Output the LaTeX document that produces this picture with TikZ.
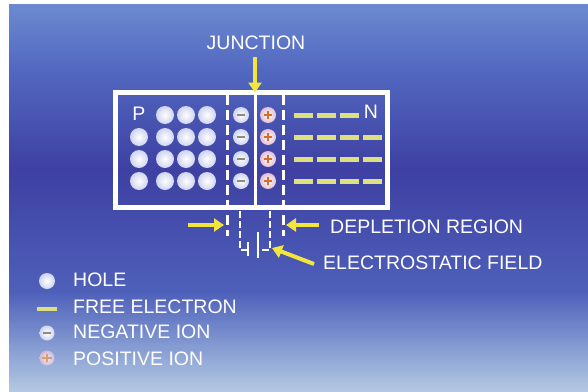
\documentclass[tikz,border=0pt]{standalone}
\usepackage{fontspec}
\setmainfont{Liberation Sans}
\usetikzlibrary{arrows.meta}
\definecolor{bgA}{RGB}{108,138,208}
\definecolor{bgB}{RGB}{82,104,192}
\definecolor{bgC}{RGB}{62,64,162}
\definecolor{bgD}{RGB}{78,96,186}
\definecolor{bgE}{RGB}{128,150,208}
\definecolor{bgF}{RGB}{180,200,226}
\definecolor{arrowyellow}{RGB}{242,230,60}
\definecolor{elecyellow}{RGB}{222,224,128}
\definecolor{negdash}{RGB}{140,140,120}
\definecolor{plusorange}{RGB}{215,110,40}
\definecolor{holeedge}{RGB}{205,212,240}
\definecolor{posedge}{RGB}{225,190,215}
\tikzset{
  lbl/.style={text=white, font=\fontsize{19.5}{22}\selectfont, inner sep=0pt},
  hole/.style={circle, minimum size=18pt, inner sep=0pt, shading=radial, inner color=white, outer color=holeedge},
  negion/.style={circle, minimum size=16pt, inner sep=0pt, shading=radial, inner color=white, outer color=holeedge},
  posion/.style={circle, minimum size=16pt, inner sep=0pt, shading=radial, inner color=white, outer color=posedge},
  electron/.style={rectangle, minimum width=19pt, minimum height=5pt, inner sep=0pt, fill=elecyellow},
  yarrow/.style={draw=arrowyellow, line width=4pt, -{Triangle[width=13pt,length=10pt]}},
  dashline/.style={draw=white, line width=3pt, dash pattern=on 10pt off 5pt},
  wire/.style={draw=white, line width=2.5pt},
  wiredash/.style={draw=white, line width=2.5pt, dash pattern=on 7pt off 3pt},
}
\begin{document}
\begin{tikzpicture}[x=1pt,y=-1pt]
\useasboundingbox (0,0) rectangle (588,391);
% background
\fill[white] (0,0) rectangle (588,391);
\shade[top color=bgA, bottom color=bgB] (9,4) rectangle (588,70);
\shade[top color=bgB, bottom color=bgC] (9,69.5) rectangle (588,170);
\shade[top color=bgC, bottom color=bgD] (9,169.5) rectangle (588,292);
\shade[top color=bgD, bottom color=bgE] (9,291.5) rectangle (588,342);
\shade[top color=bgE, bottom color=bgF] (9,341.5) rectangle (588,391);

% box
\node (box) [draw=white, line width=4.5pt, minimum width=272pt, minimum height=115pt, inner sep=0pt] at (251.5,150) {};
% lines
\coordinate (jtop) at (255,92.5);
\coordinate (jbot) at (255,207.5);
\draw[white, line width=3pt] (jtop) -- (jbot);
\coordinate (dltop) at (227,95);
\coordinate (dlbot) at (227,236);
\coordinate (drtop) at (283,95);
\coordinate (drbot) at (283,236);
\draw[dashline] (dltop) -- (dlbot);
\draw[dashline] (drtop) -- (drbot);

% holes
\node[lbl] (P) at (139,114) {P};
\node[lbl] (N) at (371,112) {N};
\foreach \r/\y in {1/115,2/137,3/159,4/181}{
  \foreach \c/\x in {2/165,3/186,4/207}{
    \node[hole] (h-\r-\c) at (\x,\y) {};
  }
  \node[negion] (neg-\r) at (241,\y) {};
  \draw[negdash, line width=1.5pt] ([xshift=-4pt]neg-\r.center) -- ([xshift=4pt]neg-\r.center);
  \node[posion] (pos-\r) at (268,\y) {};
  \draw[plusorange, line width=1.5pt] ([xshift=-4pt]pos-\r.center) -- ([xshift=4pt]pos-\r.center)
     ([yshift=-4pt]pos-\r.center) -- ([yshift=4pt]pos-\r.center);
  \foreach \c/\x in {1/303,2/326,3/349}{
    \node[electron] (e-\r-\c) at (\x,\y) {};
  }
}
\foreach \r/\y in {2/137,3/159,4/181}{
  \node[hole] (h-\r-1) at (139,\y) {};
  \node[electron] (e-\r-4) at (372,\y) {};
}

% junction label and arrow
\node[lbl] (junction) at (256,43) {JUNCTION};
\coordinate (jarrowtail) at (255,57);
\draw[yarrow] (jarrowtail) -- (jtop);

% depletion arrows
\coordinate (dlarrow) at (188,225);
\coordinate (dlhead) at (224,225);
\coordinate (drarrow) at (319,225);
\coordinate (drhead) at (286,225);
\draw[yarrow] (dlarrow) -- (dlhead);
\draw[yarrow] (drarrow) -- (drhead);
\node[lbl, anchor=west] (deplabel) at (330,226.5) {DEPLETION REGION};

% battery
\coordinate (bl1) at (240,211);
\coordinate (bl2) at (240,250);
\coordinate (bl3) at (248,250);
\coordinate (br1) at (270,211);
\coordinate (br2) at (270,250);
\coordinate (br3) at (258,250);
\draw[wiredash] (bl1) -- (bl2) -- (bl3);
\draw[wiredash] (br1) -- (br2) -- (br3);
\coordinate (ps1) at (248,242);
\coordinate (ps2) at (248,256);
\coordinate (pl1) at (258,232);
\coordinate (pl2) at (258,258);
\draw[wire] (ps1) -- (ps2);
\draw[wire] (pl1) -- (pl2);
\coordinate (ftail) at (314,264);
\coordinate (fhead) at (272,248);
\draw[yarrow] (ftail) -- (fhead);
\node[lbl, anchor=west] (fieldlabel) at (323,262.5) {ELECTROSTATIC FIELD};

% legend
\node[hole, minimum size=16pt] (lhole) at (47,281) {};
\node[lbl, anchor=west] (tHole) at (73,280) {HOLE};
\node[electron, minimum width=20pt, minimum height=4pt] (lelec) at (47,309) {};
\node[lbl, anchor=west] (tElec) at (73,307) {FREE ELECTRON};
\node[negion, minimum size=15pt] (lneg) at (47,333) {};
\draw[negdash, line width=1.5pt] ([xshift=-4pt]lneg.center) -- ([xshift=4pt]lneg.center);
\node[lbl, anchor=west] (tNeg) at (73,332) {NEGATIVE ION};
\node[posion, minimum size=15pt, opacity=0.8] (lpos) at (47,358) {};
\draw[plusorange!70!white, line width=1.5pt] ([xshift=-5pt]lpos.center) -- ([xshift=5pt]lpos.center)
   ([yshift=-4pt]lpos.center) -- ([yshift=4pt]lpos.center);
\node[lbl, anchor=west] (tPos) at (73,359) {POSITIVE ION};
\end{tikzpicture}
\end{document}
